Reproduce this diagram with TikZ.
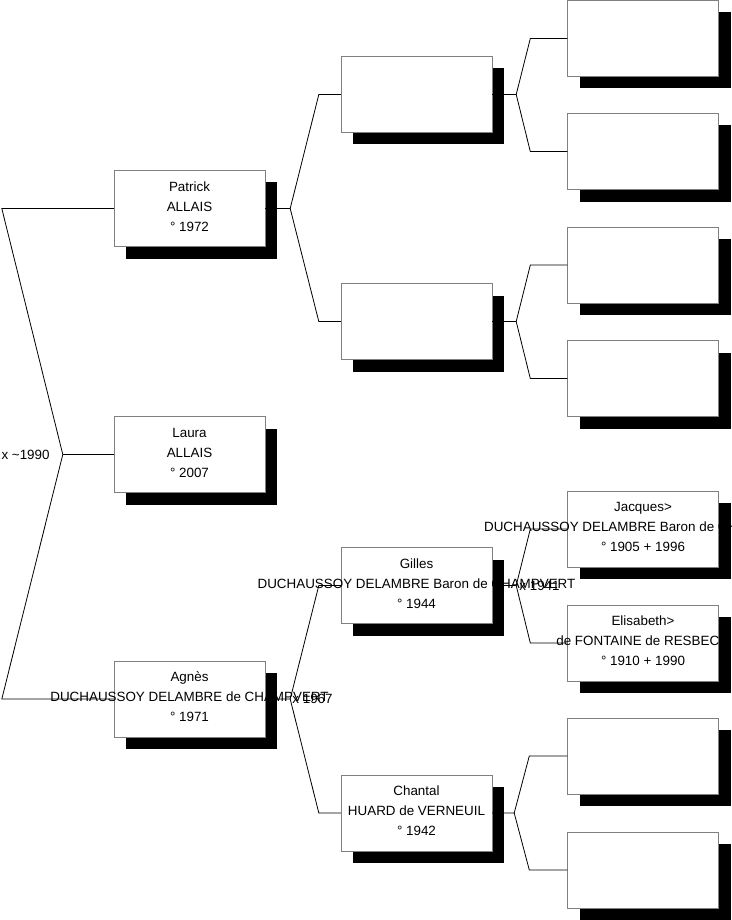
\documentclass[tikz,border=0pt]{standalone}
\usepackage{fontspec}
\setmainfont{Liberation Sans}
\usetikzlibrary{positioning,calc,shadows}
\tikzset{
  persbox/.style={draw=black!50,fill=white,minimum width=151pt,minimum height=76pt,inner sep=0pt,
    drop shadow={shadow xshift=12pt,shadow yshift=-12pt,fill=black,opacity=1}},
  perstext/.style={align=center,inner sep=0pt,yshift=2pt,font=\fontsize{13.4}{20}\selectfont},
  unionlabel/.style={inner sep=0pt,font=\fontsize{13.4}{16}\selectfont},
  fork/.style={draw=black,line width=0.8pt}
}

\begin{document}
\begin{tikzpicture}[x=1pt,y=-1pt]
  \useasboundingbox (0,0) rectangle (731,920);
  % generation 1
  \node[persbox] (patrick) at (189.5,208.5) {};
  \node[persbox] (laura)   at (189.5,454.5) {};
  \node[persbox] (agnes)   at (189.5,699) {};
  % generation 2
  \node[persbox] (pf) at (416.5,94.5) {};
  \node[persbox] (pm) at (416.5,321.5) {};
  \node[persbox] (gilles)  at (416.5,585.5) {};
  \node[persbox] (chantal) at (416.5,813) {};
  % generation 3
  \node[persbox] (pff) at (643,38.5) {};
  \node[persbox] (pfm) at (643,151.5) {};
  \node[persbox] (pmf) at (643,265) {};
  \node[persbox] (pmm) at (643,378.5) {};
  \node[persbox] (jacques)   at (643,529) {};
  \node[persbox] (elisabeth) at (643,643) {};
  \node[persbox] (cf) at (643,756) {};
  \node[persbox] (cm) at (643,870) {};

  % names
  \node[perstext] (patrick-txt) at (patrick) {Patrick\\ALLAIS\\° 1972};
  \node[perstext] (laura-txt) at (laura) {Laura\\ALLAIS\\° 2007};
  \node[perstext] (agnes-txt) at (agnes) {Agnès\\DUCHAUSSOY DELAMBRE de CHAMPVERT\\° 1971};
  \node[perstext] (gilles-txt) at (gilles) {Gilles\\DUCHAUSSOY DELAMBRE Baron de CHAMPVERT\\° 1944};
  \node[perstext] (chantal-txt) at (chantal) {Chantal\\HUARD de VERNEUIL\\° 1942};
  \node[perstext] (jacques-txt) at (jacques) {Jacques>\\DUCHAUSSOY DELAMBRE Baron de CHAMPVERT\\° 1905 + 1996};
  \node[perstext] (elisabeth-txt) at (elisabeth) {Elisabeth>\\de FONTAINE de RESBECQ\\° 1910 + 1990};

  % forks
  \coordinate (v0) at ($(laura.west)+(-51,0)$);
  \draw[fork] (laura.west) -- (v0);
  \draw[fork] (v0) -- ($(patrick.west)+(-112,0)$) -- (patrick.west);
  \draw[fork] (v0) -- ($(agnes.west)+(-112,0)$) -- (agnes.west);
  \node[unionlabel,left=13pt of v0] (m0) {x \textasciitilde1990};

  \draw[fork] (patrick.east) -- ++(25,0) coordinate (v1) -- ($(pf.west)+(-22,0)$) -- (pf.west);
  \draw[fork] (v1) -- ($(pm.west)+(-22,0)$) -- (pm.west);
  \draw[fork] (agnes.east) -- ++(25,0) coordinate (v2) -- ($(gilles.west)+(-22,0)$) -- (gilles.west);
  \draw[fork] (v2) -- ($(chantal.west)+(-22,0)$) -- (chantal.west);
  \node[unionlabel,right=2pt of v2] (m1) {x 1967};

  \draw[fork] (pf.east) -- ++(24,0) coordinate (v3) -- ($(pff.west)+(-37,0)$) -- (pff.west);
  \draw[fork] (v3) -- ($(pfm.west)+(-37,0)$) -- (pfm.west);
  \draw[fork] (pm.east) -- ++(24,0) coordinate (v4) -- ($(pmf.west)+(-37,0)$) -- (pmf.west);
  \draw[fork] (v4) -- ($(pmm.west)+(-37,0)$) -- (pmm.west);
  \draw[fork] (gilles.east) -- ++(24,0) coordinate (v5) -- ($(jacques.west)+(-37,0)$) -- (jacques.west);
  \draw[fork] (v5) -- ($(elisabeth.west)+(-37,0)$) -- (elisabeth.west);
  \node[unionlabel,right=3pt of v5] (m2) {x 1941};
  \draw[fork] (chantal.east) -- ++(22,0) coordinate (v6) -- ($(cf.west)+(-38,0)$) -- (cf.west);
  \draw[fork] (v6) -- ($(cm.west)+(-38,0)$) -- (cm.west);
\end{tikzpicture}
\end{document}
